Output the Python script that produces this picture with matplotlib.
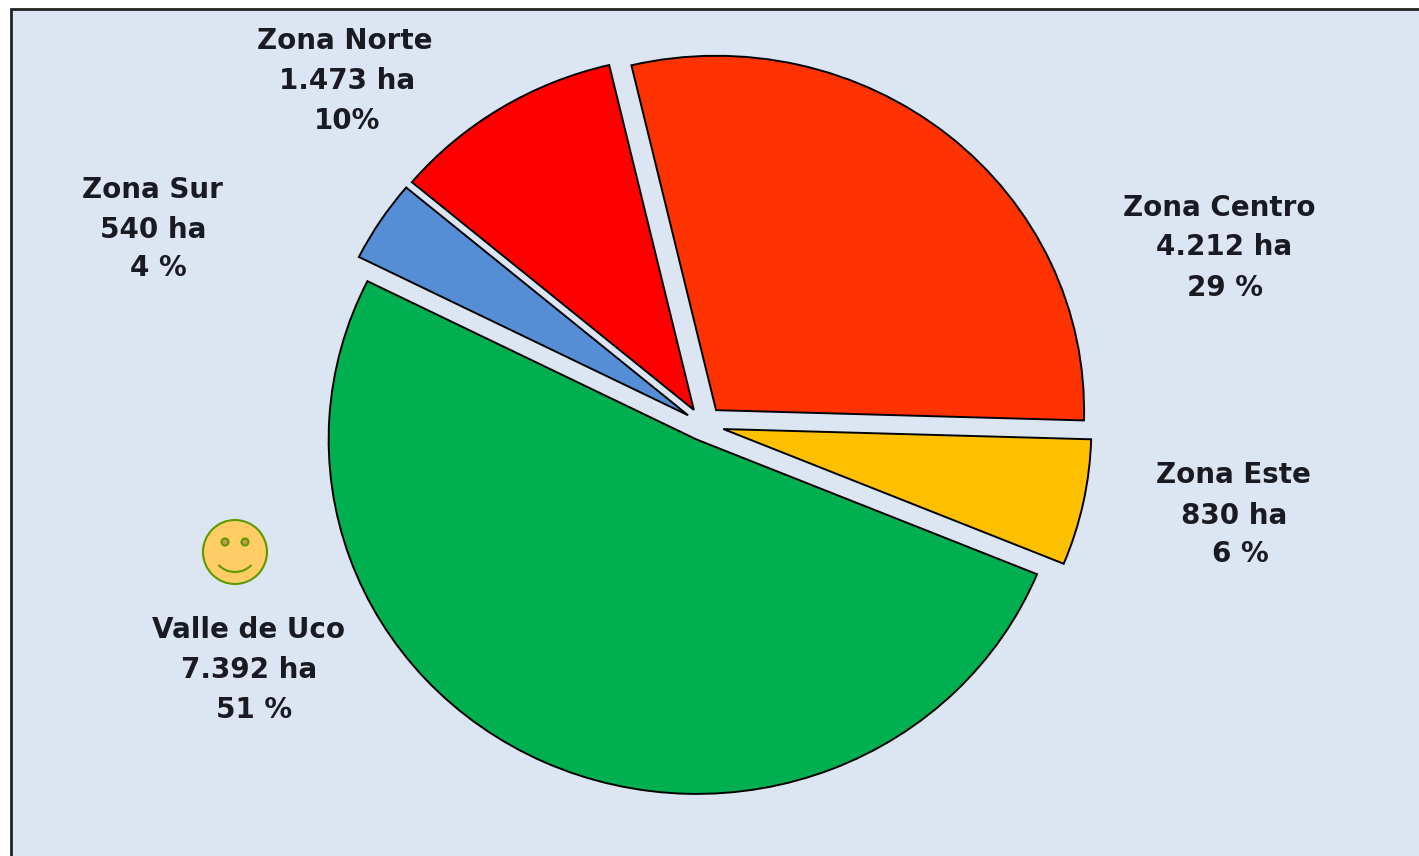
import matplotlib
matplotlib.use('Agg')
import matplotlib.pyplot as plt
from matplotlib.patches import Rectangle, Circle, Arc

# hectares per zone, clockwise from the top
zones = ['Zona Centro', 'Zona Este', 'Valle de Uco', 'Zona Sur', 'Zona Norte']
hectares = [4212, 830, 7392, 540, 1473]
ha_labels = ['4.212 ha', '830 ha', '7.392 ha', '540 ha', '1.473 ha']
pct_labels = ['29 %', '6 %', '51 %', '4 %', '10%']
colors = ['#FF3300', '#FFC000', '#00B050', '#558ED5', '#FF0000']
explode = [0.054, 0.055, 0.045, 0.05, 0.05]

# label line centres in pixels
name_pos = [(1219, 208), (1233, 475), (249, 630), (152, 190), (345, 41)]
ha_pos = [(1224, 247), (1234, 516), (249, 670), (153, 230), (347, 81)]
pct_pos = [(1225, 288), (1240, 554), (254, 710), (158, 268), (347, 121)]

W, H = 1419, 856
cx, cy = 703.5, 425
radius = 368
squash = 0.963

plt.rcParams['font.family'] = ['DejaVu Sans']

fig = plt.figure(figsize=(W / 100, H / 100), dpi=100, facecolor='white')

# overlay in image pixels for frame, labels and the smiley
bg = fig.add_axes([0, 0, 1, 1])
bg.set_xlim(0, W)
bg.set_ylim(H, 0)
bg.axis('off')
bg.add_patch(Rectangle((11, 9), W + 20, H + 20, facecolor='#DCE6F2', edgecolor='#222222', linewidth=2))

ax = fig.add_axes([0, 0, 1, 1])
ax.patch.set_visible(False)
ax.pie(hectares, explode=explode, colors=colors, startangle=103.3, counterclock=False,
       wedgeprops={'edgecolor': 'black', 'linewidth': 1.4})
ax.set_aspect('auto')
ax.set_xlim(-cx / radius, (W - cx) / radius)
ax.set_ylim((cy - H) / (radius * squash), cy / (radius * squash))
ax.axis('off')

for i in range(len(zones)):
    for text, pos in [(zones[i], name_pos[i]), (ha_labels[i], ha_pos[i]), (pct_labels[i], pct_pos[i])]:
        bg.text(pos[0], pos[1], text, ha='center', va='center', fontsize=20, color='#1a1a22',
                fontweight='bold')

# smiley
green = '#5C9A00'
bg.add_patch(Circle((235, 552), 32, facecolor='#FFCC66', edgecolor=green, linewidth=1.5))
for ex in [225, 245]:
    bg.add_patch(Circle((ex, 542), 3.5, facecolor='#C49C55', edgecolor=green, linewidth=1.5))
bg.add_patch(Arc((235, 551), 44, 42, theta1=40, theta2=140, edgecolor=green, linewidth=1.5))

fig.savefig('out.png', dpi=100)
